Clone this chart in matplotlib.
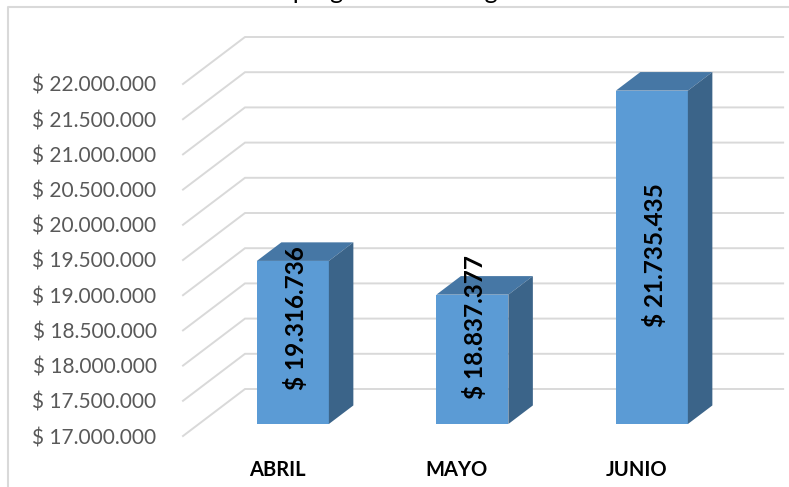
import matplotlib
matplotlib.use('Agg')
import matplotlib.pyplot as plt
from matplotlib.lines import Line2D

# ---------------- data ----------------
months = ['ABRIL', 'MAYO', 'JUNIO']
values = [19316736, 18837377, 21735435]
value_labels = ['$ 19.316.736', '$ 18.837.377', '$ 21.735.435']
tick_values = [17000000, 17500000, 18000000, 18500000, 19000000, 19500000,
               20000000, 20500000, 21000000, 21500000, 22000000]
tick_labels = ['$ 17.000.000', '$ 17.500.000', '$ 18.000.000', '$ 18.500.000',
               '$ 19.000.000', '$ 19.500.000', '$ 20.000.000', '$ 20.500.000',
               '$ 21.000.000', '$ 21.500.000', '$ 22.000.000']
title_text = 'Valor programa total según mes'

# ---------------- layout / style ----------------
plt.rcParams['font.family'] = ['Lato', 'DejaVu Sans']
W, H = 789, 487
ax_left_px, ax_bottom_px = 183, 436          # front-left corner of the floor
px_per_cat, px_per_million = 179.5, 70.4
y_min = 17000000
x_left = -0.524
wall_right = 2.474
depth_dx = 62 / px_per_cat                    # oblique depth vector (category units)
depth_dy = 47 / px_per_million * 1e6          # oblique depth vector (value units)
d0, d1 = 0.255, 0.65                          # bar depth extent
bar_w = 72 / px_per_cat
label_shift_px = [24, 32, 2]
front_col, top_col, side_col = '#5b9bd5', '#4677a5', '#3b6489'
grid_col = '#d9d9d9'

fig = plt.figure(figsize=(W / 100, H / 100), dpi=100)
ax = fig.add_axes([ax_left_px / W, (H - ax_bottom_px) / H,
                   (W - ax_left_px) / W, ax_bottom_px / H])
ax.set_xlim(x_left, x_left + (W - ax_left_px) / px_per_cat)
ax.set_ylim(y_min, y_min + ax_bottom_px / px_per_million * 1e6)
ax.patch.set_visible(False)
for s in ax.spines.values():
    s.set_visible(False)

# side wall + back wall gridlines
for v in tick_values:
    ax.plot([x_left, x_left + depth_dx, wall_right + depth_dx],
            [v, v + depth_dy, v + depth_dy],
            color=grid_col, lw=1.4, clip_on=False, zorder=1,
            solid_joinstyle='miter')

# 3D bars
for i, v in enumerate(values):
    xc = i + d0 * depth_dx
    xl, xr = xc - bar_w / 2, xc + bar_w / 2
    yb = y_min + d0 * depth_dy
    yt = v + d0 * depth_dy
    ddx = (d1 - d0) * depth_dx
    ddy = (d1 - d0) * depth_dy
    ax.fill([xl, xr, xr, xl], [yb, yb, yt, yt], color=front_col, lw=0, zorder=3)
    ax.fill([xl, xr, xr + ddx, xl + ddx], [yt, yt, yt + ddy, yt + ddy],
            color=top_col, lw=0, zorder=3)
    ax.fill([xr, xr + ddx, xr + ddx, xr], [yb, yb + ddy, yt + ddy, yt],
            color=side_col, lw=0, zorder=3)
    ax.annotate(value_labels[i], xy=(xc, (yb + yt) / 2),
                xytext=(3, label_shift_px[i]), textcoords='offset pixels',
                rotation=90, ha='center', va='center', fontsize=17.5,
                fontweight='bold', color='black', zorder=5)

# axes labels
ax.set_yticks(tick_values, tick_labels)
ax.tick_params(axis='y', length=0, pad=19, labelsize=15, labelcolor='#595959')
ax.set_xticks(range(len(months)), months)
ax.tick_params(axis='x', length=0, pad=17, labelsize=14.5, labelcolor='black')
for lbl in ax.get_xticklabels():
    lbl.set_fontweight('bold')

# chart-area border
fig.add_artist(Line2D([8 / W, 8 / W, 1], [0, 1 - 7 / H, 1 - 7 / H],
                      transform=fig.transFigure, color=grid_col, lw=1.5))
# title (mostly above the visible area, as in the reference)
fig.text(0.5 + 8 / W, 1 + 0.5 / H, title_text, ha='center', va='baseline',
         fontsize=18, color='black')

fig.savefig('out.png', dpi=100)
